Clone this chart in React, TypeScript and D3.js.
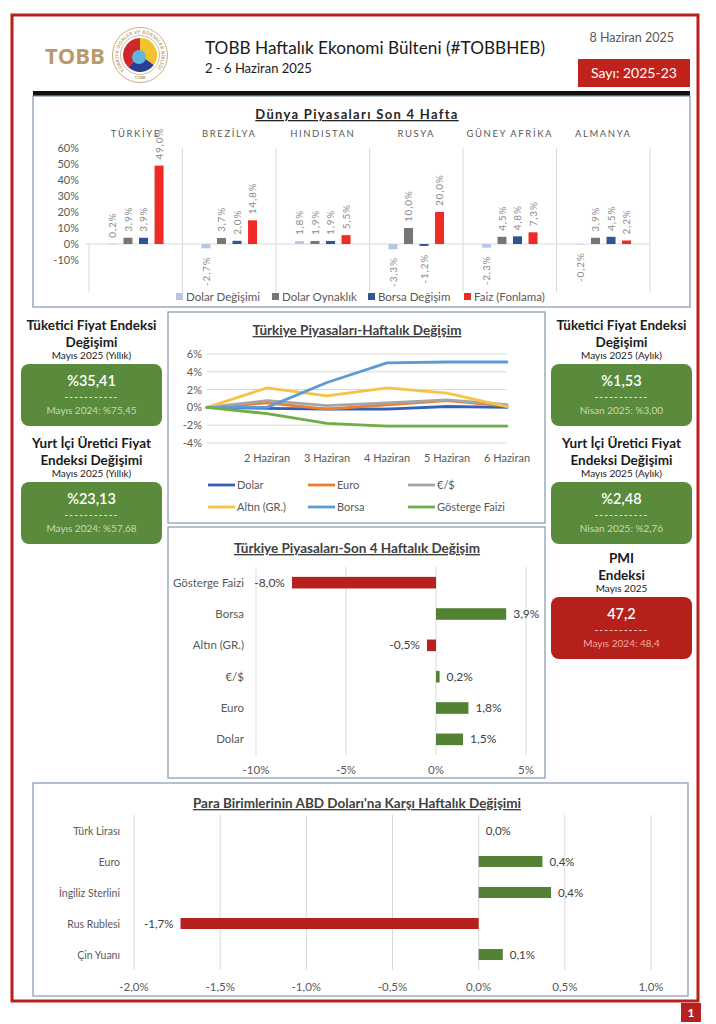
import * as d3 from "d3";

const FONT = "Lato, 'Open Sans', sans-serif";
const AXIS = "#595959";
const BOX = "#8497b0";
const RED = "#b7211d";
const GREEN = "#548235";

const tr = d3.formatLocale({ decimal: ",", thousands: ".", grouping: [3], currency: ["", ""], minus: "-" });
const f1 = tr.format(".1f");
const f0 = tr.format(".0f");
const pct1 = (v: number) => f1(v) + "%";
const pct0 = (v: number) => f0(v) + "%";

// Dünya Piyasaları Son 4 Hafta
const countries = ["TÜRKİYE", "BREZİLYA", "HINDISTAN", "RUSYA", "GÜNEY AFRİKA", "ALMANYA"];
const worldSeries = ["Dolar Değişimi", "Dolar Oynaklık", "Borsa Değişim", "Faiz (Fonlama)"];
const dolarDegisimi = [0.2, -2.7, 1.8, -3.3, -2.3, -0.2];
const dolarOynaklik = [3.9, 3.7, 1.9, 10.0, 4.5, 3.9];
const borsaDegisim = [3.9, 2.0, 1.9, -1.2, 4.8, 4.5];
const faizFonlama = [49.0, 14.8, 5.5, 20.0, 7.3, 2.2];
const worldColors = ["#b4c7e7", "#767676", "#2f5597", "#ee2b24"];
const worldTicks = [-10, 0, 10, 20, 30, 40, 50, 60];

// Türkiye Piyasaları-Haftalık Değişim
const days = ["", "2 Haziran", "3 Haziran", "4 Haziran", "5 Haziran", "6 Haziran"];
const lineSeries = ["Dolar", "Euro", "€/$", "Altın (GR.)", "Borsa", "Gösterge Faizi"];
const dolarLine = [0, -0.1, -0.2, -0.2, 0.1, 0.0];
const euroLine = [0, 0.5, -0.2, 0.3, 0.75, 0.15];
const euroDolarLine = [0, 0.75, 0.2, 0.5, 0.85, 0.3];
const altinLine = [0, 2.2, 1.3, 2.2, 1.6, 0.1];
const borsaLine = [0, 0.0, 2.8, 5.0, 5.1, 5.1];
const gostergeLine = [0, -0.7, -1.8, -2.1, -2.1, -2.1];
const lineColors = ["#3461b8", "#ed7d31", "#a5a5a5", "#f6c343", "#5b9bd5", "#70ad47"];
const lineTicks = [-4, -2, 0, 2, 4, 6];

// Türkiye Piyasaları-Son 4 Haftalık Değişim
const weekCats = ["Gösterge Faizi", "Borsa", "Altın (GR.)", "€/$", "Euro", "Dolar"];
const weekValues = [-8.0, 3.9, -0.5, 0.2, 1.8, 1.5];
const weekTicks = [-10, -5, 0, 5];

// Para Birimlerinin ABD Doları'na Karşı Haftalık Değişimi
const fxCats = ["Türk Lirası", "Euro", "İngiliz Sterlini", "Rus Rublesi", "Çin Yuanı"];
const fxValues = [0.0, 0.37, 0.42, -1.73, 0.14];
const fxTicks = [-2, -1.5, -1, -0.5, 0, 0.5, 1];

// Göstergeler
const kpiTitles = [
  ["Tüketici Fiyat Endeksi", "Değişimi"],
  ["Yurt İçi Üretici Fiyat", "Endeksi Değişimi"],
  ["Tüketici Fiyat Endeksi", "Değişimi"],
  ["Yurt İçi Üretici Fiyat", "Endeksi Değişimi"],
  ["PMI", "Endeksi"],
];
const kpiPeriods = ["Mayıs 2025 (Yıllık)", "Mayıs 2025 (Yıllık)", "Mayıs 2025 (Aylık)", "Mayıs 2025 (Aylık)", "Mayıs 2025"];
const kpiValues = ["%35,41", "%23,13", "%1,53", "%2,48", "47,2"];
const kpiPrev = ["Mayıs 2024: %75,45", "Mayıs 2024: %57,68", "Nisan 2025: %3,00", "Nisan 2025: %2,76", "Mayıs 2024: 48,4"];
const kpiBad = [false, false, false, false, true];

function Logo() {
  const cx = 140, cy = 55;
  const arc = d3.arc<any>();
  const parts = [
    { s: 0, e: 2.2, c: "#f2c230" },
    { s: 2.2, e: 3.9, c: "#2a3f8f" },
    { s: 3.9, e: Math.PI * 2, c: "#d2262a" },
  ];
  const r = 21.5;
  const k = Math.SQRT1_2 * r;
  return (
    <g>
      <text x={45} y={64} fontFamily="'Open Sans', sans-serif" fontWeight={700} fontSize={22} fill="#b89a6b">TOBB</text>
      <defs>
        <path id="ring" d={`M ${cx - k} ${cy + k} A ${r} ${r} 0 1 1 ${cx + k} ${cy + k}`} />
      </defs>
      <circle cx={cx} cy={cy} r={27.5} fill="#fff" stroke="#c9ad7c" strokeWidth={1} />
      <circle cx={cx} cy={cy} r={19.5} fill="none" stroke="#c9ad7c" strokeWidth={0.8} />
      <text fontSize={4.6} fill="#b89a6b" fontWeight={700} letterSpacing={0.3}>
        <textPath href="#ring" textLength={98}>TÜRKİYE ODALAR VE BORSALAR BİRLİĞİ</textPath>
      </text>
      <text x={cx} y={cy + 24} fontSize={4} textAnchor="middle" fill="#b89a6b" fontWeight={700}>TOBB</text>
      <g transform={`translate(${cx},${cy})`}>
        {parts.map((p, i) => (
          <path key={i} d={arc({ innerRadius: 0, outerRadius: 17, startAngle: p.s, endAngle: p.e })!} fill={p.c} />
        ))}
        <circle cx={-1} cy={2} r={7} fill="#5fb6e0" />
      </g>
    </g>
  );
}

function Header() {
  return (
    <g>
      <Logo />
      <text x={205} y={54} fontSize={17.5} fill="#1a1a1a" textLength={340} lengthAdjust="spacingAndGlyphs">TOBB Haftalık Ekonomi Bülteni (#TOBBHEB)</text>
      <text x={205} y={73} fontSize={13} fill="#1a1a1a">2 - 6 Haziran 2025</text>
      <text x={674} y={42} fontSize={12.5} fill={AXIS} textAnchor="end">8 Haziran 2025</text>
      <rect x={578} y={59} width={112} height={28} fill="#c0221c" />
      <text x={634} y={78} fontSize={14} fill="#fff" textAnchor="middle">Sayı: 2025-23</text>
      <rect x={33} y={91} width={657} height={5} fill="#111" />
    </g>
  );
}

function WorldChart() {
  const series = [dolarDegisimi, dolarOynaklik, borsaDegisim, faizFonlama];
  const y = d3.scaleLinear().domain([-10, 60]).range([260, 148]);
  const xg = d3.scaleBand().domain(countries).range([89, 650]);
  const xs = d3.scaleBand().domain(worldSeries).range([0, xg.bandwidth()]).paddingInner(0.42).paddingOuter(1.22);
  const legendX = [176, 272, 368, 464];
  return (
    <g>
      <rect x={33} y={96} width={657} height={211} fill="#fff" stroke={BOX} strokeWidth={1.2} />
      <text x={357} y={119} textAnchor="middle" fontSize={13} fontWeight={700} letterSpacing={1.3} fill="#262626" style={{ textDecoration: "underline" }}>Dünya Piyasaları Son 4 Hafta</text>
      {countries.map((c) => (
        <text key={c} x={xg(c)! + xg.bandwidth() / 2} y={137} textAnchor="middle" fontSize={9.5} letterSpacing={1.6} fill={AXIS}>{c}</text>
      ))}
      {worldTicks.map((t) => (
        <text key={t} x={79} y={y(t) + 4} textAnchor="end" fontSize={11} fill={AXIS}>{pct0(t)}</text>
      ))}
      <line x1={85} x2={650} y1={y(0)} y2={y(0)} stroke="#d9d9d9" />
      {d3.range(countries.length + 1).map((i) => {
        const x = 89 + i * xg.bandwidth();
        return <line key={i} x1={x} x2={x} y1={i === 0 ? y(0) : 148} y2={292} stroke="#d9d9d9" />;
      })}
      {countries.map((c, ci) => (
        <g key={c} transform={`translate(${xg(c)},0)`}>
          {worldSeries.map((s, si) => {
            const v = series[si][ci];
            const bx = xs(s)!;
            const cx = bx + xs.bandwidth() / 2;
            const top = Math.min(y(v), y(0));
            const h = Math.abs(y(v) - y(0));
            const pos = v >= 0;
            const ly = pos ? y(v) - 6 : y(v) + 8;
            return (
              <g key={s}>
                <rect x={bx} y={top} width={xs.bandwidth()} height={Math.max(h, 0.5)} fill={worldColors[si]} />
                <text
                  transform={`translate(${cx + 3.6},${ly}) rotate(-90)`}
                  textAnchor={pos ? "start" : "end"}
                  fontSize={10}
                  letterSpacing={0.8}
                  fill="#8a8a8a"
                >{pct1(v)}</text>
              </g>
            );
          })}
        </g>
      ))}
      {worldSeries.map((s, i) => (
        <g key={s}>
          <rect x={legendX[i]} y={293} width={7} height={7} fill={worldColors[i]} />
          <text x={legendX[i] + 10} y={301} fontSize={11.5} fill={AXIS}>{s}</text>
        </g>
      ))}
    </g>
  );
}

function LineChart() {
  const data = [dolarLine, euroLine, euroDolarLine, altinLine, borsaLine, gostergeLine];
  const x = d3.scalePoint().domain(days).range([207, 507]);
  const y = d3.scaleLinear().domain([-4, 6]).range([443, 354]);
  const line = d3.line<number>().x((_, i) => x(days[i])!).y((d) => y(d));
  const legX = [208, 308, 408];
  const legY = [485, 507];
  return (
    <g>
      <rect x={168} y={312} width={377} height={211} fill="#fff" stroke={BOX} strokeWidth={1.2} />
      <text x={357} y={335} textAnchor="middle" fontSize={13.5} fontWeight={700} fill="#404040" style={{ textDecoration: "underline" }}>Türkiye Piyasaları-Haftalık Değişim</text>
      {lineTicks.map((t) => (
        <g key={t}>
          <line x1={207} x2={507} y1={y(t)} y2={y(t)} stroke="#d9d9d9" />
          <text x={202} y={y(t) + 4} textAnchor="end" fontSize={11} fill={AXIS}>{pct0(t)}</text>
        </g>
      ))}
      {days.filter((d) => d).map((d) => (
        <text key={d} x={x(d)!} y={462} textAnchor="middle" fontSize={11} fill={AXIS}>{d}</text>
      ))}
      {data.map((d, i) => (
        <path key={i} d={line(d)!} fill="none" stroke={lineColors[i]} strokeWidth={2.8} strokeLinejoin="round" strokeLinecap="round" />
      ))}
      {lineSeries.map((s, i) => {
        const lx = legX[i % 3];
        const ly = legY[Math.floor(i / 3)];
        return (
          <g key={s}>
            <line x1={lx} x2={lx + 27} y1={ly} y2={ly} stroke={lineColors[i]} strokeWidth={2.8} />
            <text x={lx + 29} y={ly + 4} fontSize={11} fill={AXIS}>{s}</text>
          </g>
        );
      })}
    </g>
  );
}

type HBarProps = {
  box: [number, number, number, number];
  title: string;
  titleY: number;
  categories: string[];
  values: number[];
  ticks: number[];
  tickFmt: (v: number) => string;
  domain: [number, number];
  xRange: [number, number];
  yRange: [number, number];
  padding: number;
  labelX: number;
  tickY: number;
  catSize: number;
  valSize: number;
};

function HBarChart(p: HBarProps) {
  const x = d3.scaleLinear().domain(p.domain).range(p.xRange);
  const y = d3.scaleBand().domain(p.categories).range(p.yRange).paddingInner(p.padding).paddingOuter(p.padding / 2);
  const [bx, by, bw, bh] = p.box;
  return (
    <g>
      <rect x={bx} y={by} width={bw} height={bh} fill="#fff" stroke={BOX} strokeWidth={1.2} />
      <text x={357} y={p.titleY} textAnchor="middle" fontSize={13.5} fontWeight={700} fill="#404040" style={{ textDecoration: "underline" }}>{p.title}</text>
      {p.ticks.map((t) => (
        <g key={t}>
          <line x1={x(t)} x2={x(t)} y1={p.yRange[0]} y2={p.yRange[1]} stroke="#d9d9d9" />
          <text x={x(t)} y={p.tickY} textAnchor="middle" fontSize={11.5} fill={AXIS}>{p.tickFmt(t)}</text>
        </g>
      ))}
      {p.categories.map((c, i) => {
        const v = p.values[i];
        const yy = y(c)!;
        const cy = yy + y.bandwidth() / 2;
        const x0 = x(0);
        const xv = x(v);
        const pos = v >= 0;
        return (
          <g key={c}>
            <text x={p.labelX} y={cy + 4} textAnchor="end" fontSize={p.catSize} fill={AXIS}>{c}</text>
            {v !== 0 && (
              <rect x={Math.min(x0, xv)} y={yy} width={Math.abs(xv - x0)} height={y.bandwidth()} fill={pos ? GREEN : RED} />
            )}
            <text x={pos ? xv + 7 : xv - 7} y={cy + 4} textAnchor={pos ? "start" : "end"} fontSize={p.valSize} fill="#404040">{pct1(v)}</text>
          </g>
        );
      })}
    </g>
  );
}

function Kpi({ i, cx, top }: { i: number; cx: number; top: number }) {
  const bad = kpiBad[i];
  return (
    <g>
      <text x={cx} y={top} textAnchor="middle" fontSize={13.5} fontWeight={700} fill="#1a1a1a">{kpiTitles[i][0]}</text>
      <text x={cx} y={top + 17} textAnchor="middle" fontSize={13.5} fontWeight={700} fill="#1a1a1a">{kpiTitles[i][1]}</text>
      <text x={cx} y={top + 28.5} textAnchor="middle" fontSize={10} fill="#1a1a1a">{kpiPeriods[i]}</text>
      <rect x={cx - 70.5} y={top + 34} width={141} height={62} rx={8} fill={bad ? "#b5201a" : "#5a8a3c"} />
      <text x={cx} y={top + 56} textAnchor="middle" fontSize={14.5} fontWeight={600} fill="#fff">{kpiValues[i]}</text>
      <text x={cx} y={top + 70} textAnchor="middle" fontSize={10} letterSpacing={1.2} fill="#fff">-----------</text>
      <text x={cx} y={top + 84} textAnchor="middle" fontSize={10} fill={bad ? "#f0a9a2" : "#c8dab8"}>{kpiPrev[i]}</text>
    </g>
  );
}

export default function App() {
  return (
    <svg width={716} height={1024} style={{ position: "absolute", left: 0, top: 0, background: "#fff" }} fontFamily={FONT}>
      <rect x={12} y={15} width={686} height={986} fill="none" stroke={RED} strokeWidth={3} />
      <rect x={681} y={1003} width={20} height={19} fill={RED} />
      <text x={691} y={1017} textAnchor="middle" fontSize={12} fontWeight={700} fill="#fff">1</text>
      <Header />
      <WorldChart />
      <LineChart />
      <HBarChart
        box={[168, 527, 377, 251]}
        title="Türkiye Piyasaları-Son 4 Haftalık Değişim"
        titleY={553}
        categories={weekCats}
        values={weekValues}
        ticks={weekTicks}
        tickFmt={pct0}
        domain={[-10, 5]}
        xRange={[256, 526]}
        yRange={[567, 755]}
        padding={0.63}
        labelX={244}
        tickY={774}
        catSize={11.5}
        valSize={12}
      />
      <HBarChart
        box={[33, 783, 655, 213]}
        title="Para Birimlerinin ABD Doları'na Karşı Haftalık Değişimi"
        titleY={808}
        categories={fxCats}
        values={fxValues}
        ticks={fxTicks}
        tickFmt={pct1}
        domain={[-2, 1]}
        xRange={[134, 651]}
        yRange={[815, 970]}
        padding={0.645}
        labelX={120}
        tickY={991}
        catSize={10.5}
        valSize={11.5}
      />
      <Kpi i={0} cx={91.5} top={330} />
      <Kpi i={1} cx={91.5} top={448} />
      <Kpi i={2} cx={621.5} top={330} />
      <Kpi i={3} cx={621.5} top={448} />
      <Kpi i={4} cx={621.5} top={563} />
    </svg>
  );
}
